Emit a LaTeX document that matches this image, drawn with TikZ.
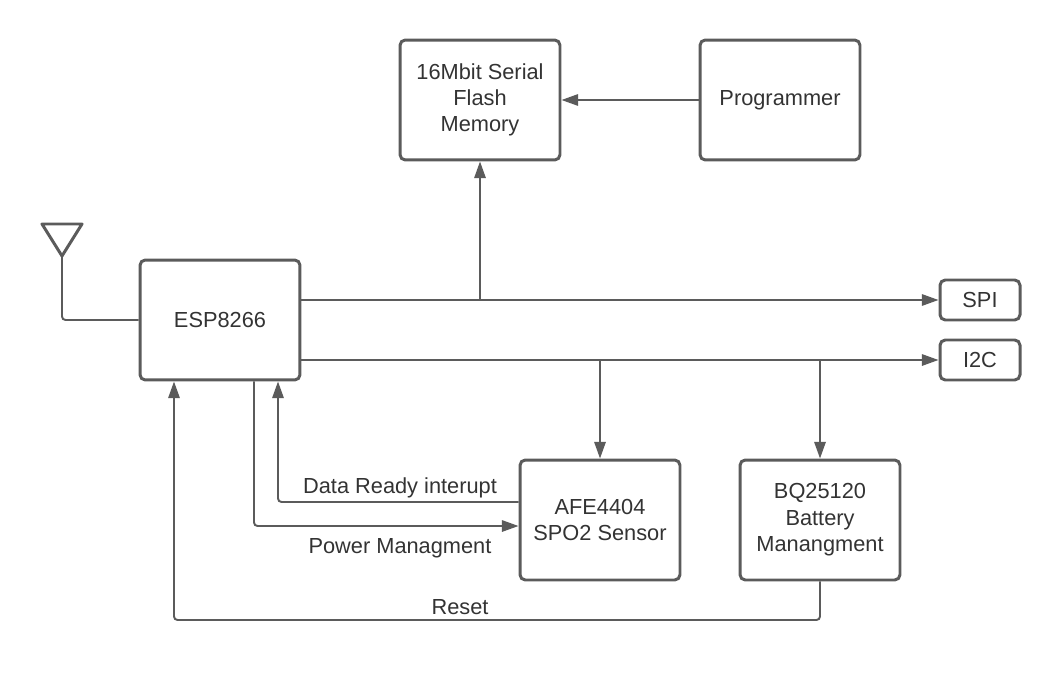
\documentclass[tikz,border=0pt]{standalone}
\usepackage{fontspec}
\setmainfont{Liberation Sans}
\usepackage{xcolor}
\usetikzlibrary{arrows.meta}

\definecolor{linegray}{HTML}{5B5B5B}
\definecolor{textgray}{HTML}{333333}

\tikzset{
  block/.style={draw=linegray, line width=1.7pt, rounded corners=3pt,
    minimum width=3.2cm, minimum height=2.4cm, align=center,
    text=textgray, font=\fontsize{12.4}{15}\selectfont},
  port/.style={block, minimum width=1.6cm, minimum height=0.8cm},
  conn/.style={draw=linegray, line width=1.1pt, rounded corners=2pt,
    -{Triangle[length=9.5pt, width=6.5pt]}},
  wire/.style={draw=linegray, line width=1.1pt, rounded corners=2pt},
  lbl/.style={text=textgray, font=\fontsize{12.4}{15}\selectfont}
}

\begin{document}
\begin{tikzpicture}[x=0.02cm, y=0.02cm]
        \useasboundingbox (0,0) rectangle (1060,680);

        % blocks
        \node[block] (esp) at (220,360) {ESP8266};
        \node[block] (flash) at (480,580) {16Mbit Serial\\Flash\\Memory};
        \node[block] (prog) at (780,580) {Programmer};
        \node[block] (afe) at (600,160) {AFE4404\\SPO2 Sensor};
        \node[block] (bq) at (820,160) {BQ25120\\Battery\\Manangment};
        \node[port] (spi) at (980,380) {SPI};
        \node[port] (itwoc) at (980,320) {I2C};

        % antenna
        \coordinate (ant) at (62,424);
        \draw[linegray, line width=1.7pt, line join=round] (42,456) -- (82,456) -- (ant) -- cycle;
        \draw[wire] (ant) |- (esp.west);

        % buses
        \draw[conn] (prog.west) -- (flash.east);
        \draw[conn] (esp.east |- spi.west) -- (spi.west);
        \draw[conn] (flash.south |- spi.west) -- (flash.south);
        \draw[conn] (esp.east |- itwoc.west) -- (itwoc.west);
        \draw[conn] (afe.north |- itwoc.west) -- (afe.north);
        \draw[conn] (bq.north |- itwoc.west) -- (bq.north);

        % control lines
        \coordinate (drdy) at (afe.west |- 0,178);
        \coordinate (pwr) at (afe.west |- 0,154);
        \draw[conn] (drdy) -| (esp.south -| 278,0);
        \draw[conn] (esp.south -| 254,0) |- (pwr);
        \draw[conn] (bq.south) |- (174,60) -- (esp.south -| 174,0);

        % labels
        \node[lbl] (drdylbl) at (400,192) {Data Ready interupt};
        \node[lbl] (pwrlbl) at (400,132) {Power Managment};
        \node[lbl] (rstlbl) at (460,73) {Reset};
    \end{tikzpicture}
\end{document}
